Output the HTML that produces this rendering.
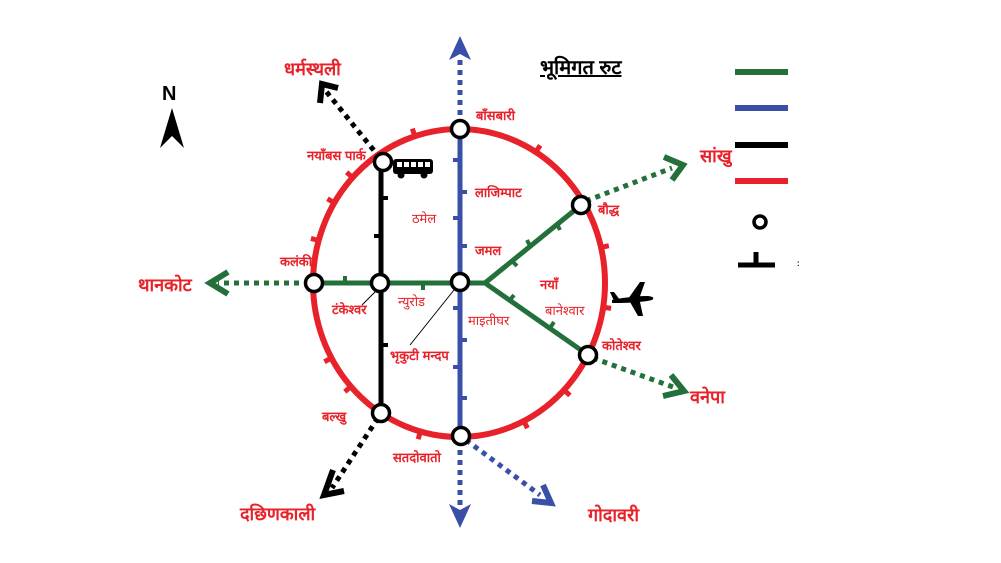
<!DOCTYPE html>
<html><head><meta charset="utf-8"><style>
html,body{margin:0;padding:0;background:#fff;}
svg{display:block;}
text{font-family:"Liberation Sans","Noto Sans CJK SC",sans-serif;font-weight:bold;fill:#e8222a;}
</style></head><body>
<svg id="s" width="1001" height="563" viewBox="0 0 1001 563" xmlns="http://www.w3.org/2000/svg">
<rect width="1001" height="563" fill="#fff"/>
<!-- red ring -->
<ellipse cx="459" cy="283" rx="146" ry="154" fill="none" stroke="#e8222a" stroke-width="6"/>
<g id="ticks" stroke="#e8222a" stroke-width="5"></g>
<!-- blue line -->
<line x1="460" y1="129" x2="460" y2="436" stroke="#3a50a8" stroke-width="5"/>
<g stroke="#3a50a8" stroke-width="4"><line x1="460" y1="160" x2="453" y2="160"/><line x1="460" y1="192" x2="467" y2="192"/><line x1="460" y1="218" x2="453" y2="218"/><line x1="460" y1="246" x2="467" y2="246"/><line x1="460" y1="308" x2="453" y2="308"/><line x1="460" y1="340" x2="467" y2="340"/><line x1="460" y1="367" x2="453" y2="367"/><line x1="460" y1="398" x2="467" y2="398"/></g>
<g stroke="#3a50a8" stroke-width="5" stroke-dasharray="5 5" fill="none">
<line x1="460" y1="125" x2="460" y2="55"/><line x1="460" y1="440" x2="460" y2="510"/>
<line x1="466" y1="440" x2="540" y2="495"/></g>
<polygon points="449,60 460,36 471,60 460,54" fill="#3a50a8"/>
<polygon points="449,504 460,528 471,504 460,510" fill="#3a50a8"/>
<polyline points="543,485 551,503 532,501" fill="none" stroke="#3a50a8" stroke-width="6"/>
<!-- black line -->
<line x1="381" y1="162" x2="381" y2="413" stroke="#000" stroke-width="5"/>
<g stroke="#000" stroke-width="4"><line x1="381" y1="198" x2="388" y2="198"/><line x1="381" y1="236" x2="374" y2="236"/><line x1="381" y1="345" x2="388" y2="345"/></g>
<g stroke="#000" stroke-width="5" stroke-dasharray="5 5" fill="none">
<line x1="380" y1="158" x2="325" y2="90"/><line x1="378" y1="418" x2="332" y2="488"/></g>
<polyline points="320,103 322,84 338,88" fill="none" stroke="#000" stroke-width="6"/>
<polyline points="333,470 324,495 344,491" fill="none" stroke="#000" stroke-width="6"/>
<!-- green line -->
<polyline points="314,283 485,283 581,205" fill="none" stroke="#24703a" stroke-width="5"/>
<line x1="485" y1="283" x2="588" y2="355" stroke="#24703a" stroke-width="5"/>
<g stroke="#24703a" stroke-width="4"><line x1="345" y1="283" x2="345" y2="276"/><line x1="423" y1="283" x2="423" y2="290"/><line x1="512" y1="261" x2="517" y2="266"/><line x1="530" y1="246" x2="527" y2="240"/><line x1="557" y1="224" x2="560" y2="230"/><line x1="510" y1="300" x2="514" y2="295"/><line x1="550" y1="328" x2="554" y2="322"/></g>
<g stroke="#24703a" stroke-width="5" stroke-dasharray="5 5" fill="none">
<line x1="309" y1="283" x2="218" y2="283"/><line x1="586" y1="201" x2="672" y2="168"/><line x1="593" y1="358" x2="673" y2="387"/></g>
<polyline points="228,272 210,283 228,294" fill="none" stroke="#24703a" stroke-width="6"/>
<polyline points="664,157 683,165 672,180" fill="none" stroke="#24703a" stroke-width="6"/>
<polyline points="671,375 684,391 663,396" fill="none" stroke="#24703a" stroke-width="6"/>
<!-- stations -->
<g fill="#fff" stroke="#000" stroke-width="3.5">
<circle cx="460" cy="129" r="8.5"/><circle cx="383" cy="162" r="8.5"/><circle cx="581" cy="205" r="8.5"/>
<circle cx="314" cy="283" r="8.5"/><circle cx="380" cy="283" r="8.5"/><circle cx="460" cy="282" r="8.5"/>
<circle cx="588" cy="355" r="8.5"/><circle cx="381" cy="413" r="8.5"/><circle cx="461" cy="436" r="8.5"/>
</g>
<!-- leader lines -->
<line x1="376" y1="291" x2="362" y2="305" stroke="#000" stroke-width="1"/>
<line x1="454" y1="290" x2="410" y2="345" stroke="#000" stroke-width="1"/>
<!-- bus icon -->
<rect x="393" y="159" width="40" height="15" rx="3" fill="#000"/>
<g fill="#fff"><rect x="397" y="162" width="5" height="5"/><rect x="404" y="162" width="5" height="5"/><rect x="411" y="162" width="5" height="5"/><rect x="418" y="162" width="5" height="5"/><rect x="425" y="162" width="5" height="5"/></g>
<circle cx="401" cy="175" r="3.5" fill="#000"/><circle cx="424" cy="175" r="3.5" fill="#000"/>
<!-- plane -->
<g fill="#000">
<path d="M612 300 Q630 296 648 296 Q656 297 652 300 Q640 303 612 303 Z"/>
<path d="M628 299 L640 282 L645 282 L639 299 Z"/>
<path d="M630 302 L638 316 L643 316 L640 302 Z"/>
<path d="M614 301 L610 292 L614 292 L620 300 Z"/>
</g>
<!-- north -->
<text x="162" y="100" style="fill:#000;font-size:20px">N</text>
<polygon points="172,108 160,148 172,136 184,148" fill="#000"/>
<!-- legend -->
<g stroke-width="6"><line x1="735" y1="72" x2="788" y2="72" stroke="#24703a"/><line x1="735" y1="108" x2="788" y2="108" stroke="#3a50a8"/><line x1="735" y1="145" x2="788" y2="145" stroke="#000"/><line x1="735" y1="181" x2="788" y2="181" stroke="#e8222a"/></g>
<circle cx="760" cy="222" r="6" fill="none" stroke="#000" stroke-width="3.5"/>
<line x1="738" y1="265" x2="775" y2="265" stroke="#000" stroke-width="5"/><line x1="756" y1="252" x2="756" y2="265" stroke="#000" stroke-width="5"/>
<text x="797" y="266" style="fill:#000;font-size:8px">:</text>
<!-- title -->
<text x="540" y="74" style="fill:#000;font-size:20px;text-decoration:underline">भूमिगत रुट</text>
<!-- labels -->
<g style="font-size:15px">
<text x="284" y="75" style="font-size:18px">धर्मस्थली</text>
<text x="476" y="120" style="font-size:13px">बाँसबारी</text>
<text x="307" y="160" style="font-size:13px">नयाँबस पार्क</text>
<text x="475" y="197" style="font-size:13px">लाजिम्पाट</text>
<text x="412" y="223" style="font-size:13px;font-weight:normal">ठमेल</text>
<text x="475" y="255" style="font-size:13px">जमल</text>
<text x="280" y="266" style="font-size:13px">कलंकी</text>
<text x="598" y="214" style="font-size:13px">बौद्ध</text>
<text x="700" y="162" style="font-size:18px">सांखु</text>
<text x="540" y="289" style="font-size:13px">नयाँ</text>
<text x="545" y="315" style="font-size:13px;font-weight:normal">बानेश्वार</text>
<text x="602" y="350" style="font-size:13px">कोतेश्वर</text>
<text x="690" y="403" style="font-size:18px">वनेपा</text>
<text x="138" y="291" style="font-size:18px">थानकोट</text>
<text x="332" y="314" style="font-size:13px">टंकेश्वर</text>
<text x="398" y="306" style="font-size:13px;font-weight:normal">न्युरोड</text>
<text x="468" y="325" style="font-size:13px;font-weight:normal">माइतीघर</text>
<text x="390" y="360" style="font-size:13px">भृकुटी मन्दप</text>
<text x="322" y="421" style="font-size:13px">बल्खु</text>
<text x="393" y="462" style="font-size:13px">सतदोवातो</text>
<text x="240" y="520" style="font-size:18px">दछिणकाली</text>
<text x="588" y="521" style="font-size:18px">गोदावरी</text>
</g>
</svg>
<script>
(function(){
var cx=459,cy=283,rx=146,ry=154;
var pts=[[413,130],[537,150],[350,175],[330,200],[317,240],[323,363],[342,395],[603,247],[608,308],[567,393],[527,428],[420,433]];
var g=document.getElementById('ticks'),h='';
pts.forEach(function(p){
 var t=Math.atan2((p[1]-cy)/ry,(p[0]-cx)/rx);
 var x=cx+rx*Math.cos(t),y=cy+ry*Math.sin(t);
 var nx=Math.cos(t)/rx,ny=Math.sin(t)/ry,l=Math.hypot(nx,ny);nx/=l;ny/=l;
 h+='<line x1="'+x+'" y1="'+y+'" x2="'+(x+nx*8)+'" y2="'+(y+ny*8)+'"/>';
});
g.innerHTML=h;
})();
</script>
</body></html>
